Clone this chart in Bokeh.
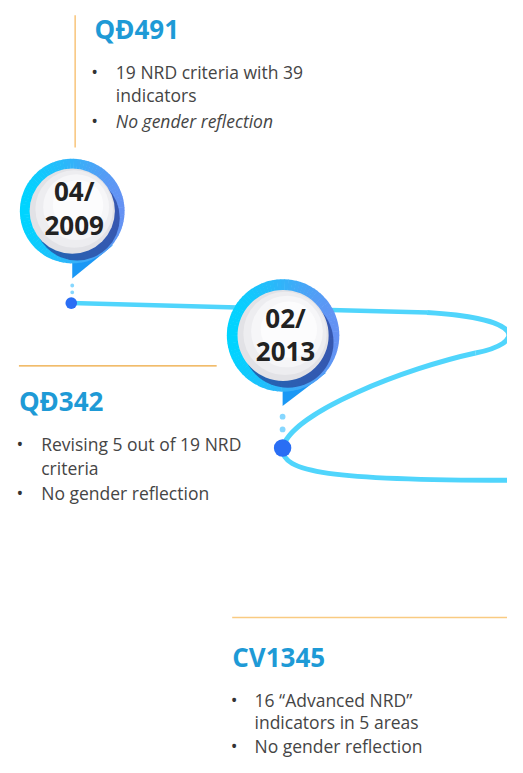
from bokeh.plotting import figure
from bokeh.models import Range1d
from bokeh.core.properties import value
from bokeh.embed import file_html
from bokeh.resources import INLINE
import numpy as np

# ---------------- data ----------------
date_month = ["04/", "02/"]
date_year = ["2009", "2013"]
titles = ["QĐ491", "QĐ342", "CV1345"]
bullet_1 = ["19 NRD criteria with 39|indicators", "No gender reflection"]
bullet_2 = ["Revising 5 out of 19 NRD|criteria", "No gender reflection"]
bullet_3 = ["16 “Advanced NRD”|indicators in 5 areas", "No gender reflection"]
bullets = [bullet_1, bullet_2, bullet_3]
italic_second = [True, False, False]

# ---------------- layout (reference pixel space mapped onto the figure) ----------------
W, H = 507, 757
p = figure(width=W, height=H, output_backend="svg", toolbar_location=None,
           x_range=Range1d(0, 523), y_range=Range1d(773, 0),
           min_border=0, outline_line_color=None)
p.axis.visible = False
p.grid.visible = False
p.background_fill_color = "white"
p.border_fill_color = "white"

FONT = value("Open Sans")
TITLE_BLUE = "#1E9AD6"
TEXT_GRAY = "#454545"
LINE_CYAN = "#50D5FC"

# ---- timeline path (decorative) ----
p.line(x=[73, 440], y=[309, 318.5], line_color=LINE_CYAN, line_width=4.5)
p.bezier(x0=[440, 490, 291], y0=[318.5, 360, 457],
         x1=[490, 291, 530], y1=[360, 457, 490],
         cx0=[545, 420, 289], cy0=[325, 375, 482],
         cx1=[540, 300, 340], cy1=[350, 420, 490],
         line_color=LINE_CYAN, line_width=5)

# ---- text blocks ----
block_title_pos = [(97, 29), (19, 409), (239, 670)]
block_bullet_x = [(97, 119), (20, 42), (241, 262)]
block_line_y = [(73, 97, 123), (453, 477, 503), (714, 737, 761)]

for i, title in enumerate(titles):
    tx, ty = block_title_pos[i]
    p.text(x=[tx], y=[ty], text=[title], text_font=FONT, text_font_style="bold",
           text_font_size="26px", text_color=TITLE_BLUE, text_baseline="middle",
           text_align="left")
    bx, lx = block_bullet_x[i]
    ys = block_line_y[i]
    first = bullets[i][0].split("|")
    second = bullets[i][1]
    p.text(x=[bx, bx], y=[ys[0], ys[2]], text=["•", "•"], text_font=FONT,
           text_font_size="18px", text_color="#333333", text_baseline="middle",
           text_align="center")
    p.text(x=[lx, lx], y=[ys[0], ys[1]], text=first, text_font=FONT,
           text_font_size="17.5px", text_color=TEXT_GRAY, text_baseline="middle",
           text_align="left")
    p.text(x=[lx], y=[ys[2]], text=[second], text_font=FONT,
           text_font_style="italic" if italic_second[i] else "normal",
           text_font_size="17.5px", text_color=TEXT_GRAY, text_baseline="middle",
           text_align="left")

# dividers
p.line(x=[77, 77], y=[15, 150], line_color="#F8C47A", line_width=1.5)
p.line(x=[19, 223], y=[373, 373], line_color="#EDA63A", line_width=1.2)
p.line(x=[239, 523], y=[630, 630], line_color="#F9CB82", line_width=1.5)

# ---- milestone markers ----
markers = [
    dict(c=(74, 215), R=54, r=44, node=(73, 309), nr=6, dots=[(74, 291), (74, 298)], dr=2,
         tri=([74, 74, 116], [250, 284, 250]), ty=(195, 230), tx=76),
    dict(c=(291.5, 342), R=58, r=47, node=(291, 457), nr=9, dots=[(291, 425), (291, 438)], dr=3,
         tri=([291, 291, 336], [380, 414, 380]), ty=(324, 358), tx=294),
]

def mix(a, b, t):
    return "#%02x%02x%02x" % tuple(int(round(a[k] + (b[k] - a[k]) * t)) for k in range(3))

left_c = (0, 212, 255)
right_c = (112, 138, 242)
for m in markers:
    cx, cy = m["c"]
    # pointer
    p.patch(x=m["tri"][0], y=m["tri"][1], fill_color="#1A98F5", line_color=None)
    # ring with horizontal gradient
    n = 90
    starts = np.linspace(0, 2 * np.pi, n, endpoint=False)
    ends = starts + 2 * np.pi / n + 0.01
    mids = starts + np.pi / n
    cols = [mix(left_c, right_c, (1 + np.cos(a)) / 2 * 0.9) for a in mids]
    p.annular_wedge(x=cx, y=cy, inner_radius=0, outer_radius=m["R"],
                    start_angle=list(starts), end_angle=list(ends),
                    fill_color=cols, line_color=None)
    # shadow
    p.circle(x=[cx + 5], y=[cy + 7], radius=m["r"], fill_color="#27449A",
             fill_alpha=0.75, line_color=None)
    # white disc with subtle shading
    p.circle(x=[cx], y=[cy], radius=m["r"], fill_color="#E2E2E6", line_color=None)
    p.circle(x=[cx + 2], y=[cy - 2], radius=m["r"] - 4, fill_color="#EDEDF0", line_color=None)
    p.circle(x=[cx + 4], y=[cy - 4], radius=m["r"] - 10, fill_color="#F6F6F8", line_color=None)
    p.circle(x=[cx + 6], y=[cy - 6], radius=m["r"] - 18, fill_color="#FCFCFD", line_color=None)
    # dots + node
    p.circle(x=[d[0] for d in m["dots"]], y=[d[1] for d in m["dots"]], radius=m["dr"],
             fill_color="#86D7FF", line_color=None)
    p.circle(x=[m["node"][0]], y=[m["node"][1]], radius=m["nr"], fill_color="#2A6EF4",
             line_color=None)

for i, m in enumerate(markers):
    p.text(x=[m["tx"], m["tx"]], y=list(m["ty"]), text=[date_month[i], date_year[i]],
           text_font=FONT, text_font_style="bold", text_font_size="26px",
           text_color="#222222", text_baseline="middle", text_align="center")

open("out.html", "w").write(file_html(p, INLINE))
